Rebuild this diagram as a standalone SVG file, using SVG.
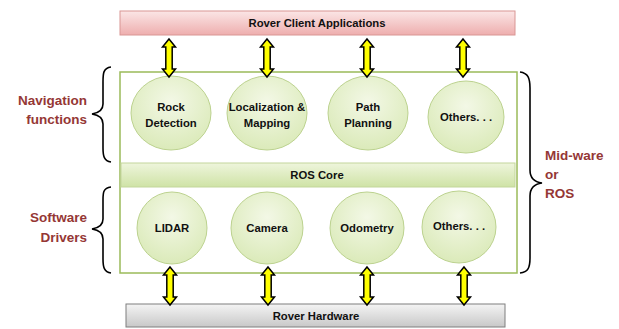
<svg xmlns="http://www.w3.org/2000/svg" width="619" height="329" viewBox="0 0 619 329">
<defs>
<linearGradient id="gPink" x1="0" y1="0" x2="0" y2="1"><stop offset="0" stop-color="#fbe6e6"/><stop offset="1" stop-color="#eeaeae"/></linearGradient>
<linearGradient id="gGray" x1="0" y1="0" x2="0" y2="1"><stop offset="0" stop-color="#f4f4f4"/><stop offset="1" stop-color="#c8c8c8"/></linearGradient>
<linearGradient id="gBand" x1="0" y1="0" x2="0" y2="1"><stop offset="0" stop-color="#eef5dc"/><stop offset="1" stop-color="#cfe3a6"/></linearGradient>
<radialGradient id="gCirc" cx="0.5" cy="0.35" r="0.7"><stop offset="0" stop-color="#f3f8e6"/><stop offset="1" stop-color="#d9e9b6"/></radialGradient>
<path id="arr" d="M0,0 L6.5,8 L3.2,8 L3.2,30 L6.5,30 L0,38 L-6.5,30 L-3.2,30 L-3.2,8 L-6.5,8 Z"/>
</defs>
<style>
.lbl{font-family:"Liberation Sans",Arial,sans-serif;font-weight:bold;font-size:11.3px;fill:#111;text-anchor:middle}
.side{font-family:"Liberation Sans",Arial,sans-serif;font-weight:bold;font-size:13.5px;fill:#953735}
.circ{fill:url(#gCirc);stroke:#bcd28f;stroke-width:1}
.brace{fill:none;stroke:#000;stroke-width:1.6}
.arrow{fill:#ffff00;stroke:#000;stroke-width:1.5;stroke-linejoin:miter}
</style>

<g id="main-box">
<rect x="120" y="72" width="397" height="201" fill="#ffffff" stroke="#9bbb59" stroke-width="1.5"/>
</g>
<g id="ros-core">
<rect x="121" y="163" width="394" height="24" fill="url(#gBand)" stroke="#c3d69b" stroke-width="1"/>
<text class="lbl" x="317" y="179">ROS Core</text>
</g>

<g id="client-apps">
<rect x="120" y="11" width="395" height="24" fill="url(#gPink)" stroke="#d99694" stroke-width="1"/>
<text class="lbl" x="317" y="27">Rover Client Applications</text>
</g>
<g id="hardware">
<rect x="126" y="304" width="379" height="23" fill="url(#gGray)" stroke="#7f7f7f" stroke-width="1"/>
<text class="lbl" x="316" y="320">Rover Hardware</text>
</g>

<g id="rock-detection"><ellipse class="circ" cx="171" cy="113" rx="40" ry="37"/><text class="lbl" x="171" y="111">Rock</text><text class="lbl" x="171" y="127">Detection</text></g>
<g id="localization"><ellipse class="circ" cx="267" cy="113" rx="40" ry="37"/><text class="lbl" x="267" y="111">Localization &amp;</text><text class="lbl" x="267" y="127">Mapping</text></g>
<g id="path-planning"><ellipse class="circ" cx="368" cy="113" rx="40" ry="37"/><text class="lbl" x="368" y="111">Path</text><text class="lbl" x="368" y="127">Planning</text></g>
<g id="others-top"><ellipse class="circ" cx="466" cy="117" rx="38" ry="36"/><text class="lbl" x="466" y="121">Others. . .</text></g>

<g id="lidar"><ellipse class="circ" cx="172" cy="228" rx="35" ry="36"/><text class="lbl" x="172" y="232">LIDAR</text></g>
<g id="camera"><ellipse class="circ" cx="267" cy="228" rx="36" ry="36"/><text class="lbl" x="267" y="232">Camera</text></g>
<g id="odometry"><ellipse class="circ" cx="367" cy="228" rx="37" ry="36"/><text class="lbl" x="367" y="232">Odometry</text></g>
<g id="others-bottom"><ellipse class="circ" cx="459" cy="227" rx="37" ry="36"/><text class="lbl" x="459" y="230">Others. . .</text></g>

<g id="connectors">
<use href="#arr" class="arrow" x="169" y="39"/>
<use href="#arr" class="arrow" x="267" y="39"/>
<use href="#arr" class="arrow" x="367" y="39"/>
<use href="#arr" class="arrow" x="463" y="39"/>
<use href="#arr" class="arrow" x="170" y="267"/>
<use href="#arr" class="arrow" x="268" y="267"/>
<use href="#arr" class="arrow" x="367" y="267"/>
<use href="#arr" class="arrow" x="464" y="267"/>
</g>

<g id="nav-label">
<path class="brace" d="M111,67 C103,68 103,74 103,82 L103,104 C103,110 99,113 92,114 C99,115 103,118 103,124 L103,148 C103,156 104,161 111,162"/>
<text class="side" x="87" y="105" text-anchor="end">Navigation</text>
<text class="side" x="87" y="124" text-anchor="end">functions</text>
</g>
<g id="drivers-label">
<path class="brace" d="M111,187 C103,188 103,193 103,200 L103,219 C103,225 99,228 92,229 C99,230 103,233 103,239 L103,259 C103,267 104,272 111,273"/>
<text class="side" x="87" y="222" text-anchor="end">Software</text>
<text class="side" x="87" y="242" text-anchor="end">Drivers</text>
</g>
<g id="midware-label">
<path class="brace" d="M520,72 C528,73 530,78 530,88 L530,170 C530,178 534,182 542,183 C534,184 530,188 530,196 L530,258 C530,268 528,272 520,273"/>
<text class="side" x="545" y="160">Mid-ware</text>
<text class="side" x="545" y="179">or</text>
<text class="side" x="545" y="198">ROS</text>
</g>
</svg>
